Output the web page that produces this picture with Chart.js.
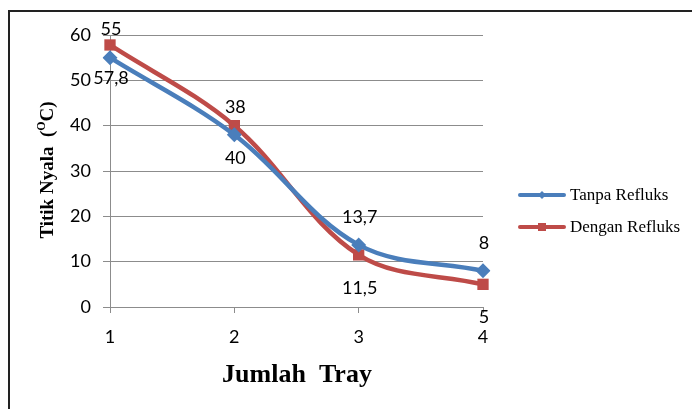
<!DOCTYPE html>
<html>
<head>
<meta charset="utf-8">
<script src="https://cdn.jsdelivr.net/npm/chart.js@4.4.0/dist/chart.umd.min.js"></script>
<style>
  html, body { margin: 0; padding: 0; background: #fff; }
  #wrap { position: relative; width: 692px; height: 409px; }
  #frame {
    position: absolute; left: 8px; top: 10px; width: 700px; height: 420px;
    border-left: 2px solid #222; border-top: 2px solid #222;
    box-sizing: border-box;
  }
  canvas { position: absolute; left: 0; top: 0; }
</style>
</head>
<body>
<div id="wrap">
  <div id="frame"></div>
  <canvas id="chart" width="692" height="409"></canvas>
</div>
<script>
// jumlah tray vs titik nyala
const trays = ['1', '2', '3', '4'];
const tanpaRefluks = [55, 38, 13.7, 8];
const denganRefluks = [57.8, 40, 11.5, 5];
const yTicks = [0, 10, 20, 30, 40, 50, 60];

const BLUE = '#4a7ebb';
const RED = '#be4b48';
const GRID = '#8c8c8c';
const SANS = 'Lato, "Open Sans", sans-serif';
const SERIF = '"Liberation Serif", "Times New Roman", serif';

const fmt = (v) => String(v).replace('.', ',');

// value labels: first series above its points, second series below
const valueLabels = {
  id: 'valueLabels',
  afterDatasetsDraw(chart) {
    const ctx = chart.ctx;
    ctx.save();
    ctx.font = '18px ' + SANS;
    ctx.fillStyle = '#000';
    ctx.textAlign = 'center';
    ctx.textBaseline = 'middle';
    chart.data.datasets.forEach((ds, i) => {
      const meta = chart.getDatasetMeta(i);
      const dy = i === 0 ? -28 : 33;
      meta.data.forEach((pt, j) => {
        ctx.fillText(fmt(ds.data[j]), pt.x + 1, pt.y + dy);
      });
    });
    ctx.restore();
  }
};

// axis titles and legend
const extras = {
  id: 'extras',
  afterDraw(chart) {
    const ctx = chart.ctx;
    ctx.save();

    // x title
    ctx.fillStyle = '#000';
    ctx.font = 'bold 26px ' + SERIF;
    ctx.textAlign = 'center';
    ctx.textBaseline = 'middle';
    ctx.fillText('Jumlah  Tray', 297, 375);

    // y title, rotated, with raised O in (OC)
    ctx.translate(48, 170);
    ctx.rotate(-Math.PI / 2);
    const big = 'bold 19px ' + SERIF;
    const small = 'bold 12px ' + SERIF;
    const parts = [
      { t: 'Titik Nyala  (', f: big, dy: 0 },
      { t: 'O', f: small, dy: -6 },
      { t: 'C)', f: big, dy: 0 }
    ];
    let total = 0;
    parts.forEach(p => { ctx.font = p.f; total += ctx.measureText(p.t).width; });
    let x = -total / 2;
    ctx.textAlign = 'left';
    parts.forEach(p => {
      ctx.font = p.f;
      ctx.fillText(p.t, x, p.dy);
      x += ctx.measureText(p.t).width;
    });
    ctx.setTransform(1, 0, 0, 1, 0, 0);

    // legend
    const rows = [195, 227];
    chart.data.datasets.forEach((ds, i) => {
      const y = rows[i];
      ctx.strokeStyle = ds.borderColor;
      ctx.lineWidth = 4;
      ctx.lineCap = 'round';
      ctx.beginPath();
      ctx.moveTo(520, y);
      ctx.lineTo(564, y);
      ctx.stroke();
      ctx.fillStyle = ds.borderColor;
      if (i === 0) {
        ctx.beginPath();
        ctx.moveTo(542, y - 4);
        ctx.lineTo(546, y);
        ctx.lineTo(542, y + 4);
        ctx.lineTo(538, y);
        ctx.closePath();
        ctx.fill();
      } else {
        ctx.fillRect(538, y - 4, 8, 8);
      }
      ctx.fillStyle = '#000';
      ctx.font = '17px ' + SERIF;
      ctx.textAlign = 'left';
      ctx.textBaseline = 'middle';
      ctx.fillText(ds.label, 570, y + 1);
    });
    ctx.restore();
  }
};

new Chart(document.getElementById('chart'), {
  type: 'line',
  data: {
    labels: trays,
    datasets: [
      {
        label: 'Tanpa Refluks',
        data: tanpaRefluks,
        borderColor: BLUE,
        backgroundColor: BLUE,
        borderWidth: 4.5,
        tension: 0.35,
        pointStyle: 'rectRot',
        pointRadius: 7.5,
        pointBorderWidth: 0,
        pointBackgroundColor: BLUE
      },
      {
        label: 'Dengan Refluks',
        data: denganRefluks,
        borderColor: RED,
        backgroundColor: RED,
        borderWidth: 4.5,
        tension: 0.35,
        pointStyle: 'rect',
        pointRadius: 8,
        pointBorderWidth: 0,
        pointBackgroundColor: RED
      }
    ]
  },
  options: {
    responsive: false,
    animation: false,
    events: [],
    layout: { padding: { left: 0, top: 35, right: 209, bottom: 0 } },
    plugins: {
      legend: { display: false },
      tooltip: { enabled: false }
    },
    scales: {
      x: {
        offset: false,
        afterFit(scale) { scale.height = 102; },
        border: { color: GRID, width: 1 },
        grid: { drawOnChartArea: false, drawTicks: true, tickLength: 6, color: GRID },
        ticks: {
          color: '#000',
          padding: 13,
          font: { family: SANS, size: 18 }
        }
      },
      y: {
        min: 0,
        max: 60,
        afterFit(scale) { scale.width = 110; },
        afterBuildTicks(scale) { scale.ticks = yTicks.map(v => ({ value: v })); },
        border: { color: GRID, width: 1 },
        grid: { color: GRID, lineWidth: 1, tickLength: 7 },
        ticks: {
          color: '#000',
          padding: 12,
          font: { family: SANS, size: 18 }
        }
      }
    }
  },
  plugins: [valueLabels, extras]
});
</script>
</body>
</html>
